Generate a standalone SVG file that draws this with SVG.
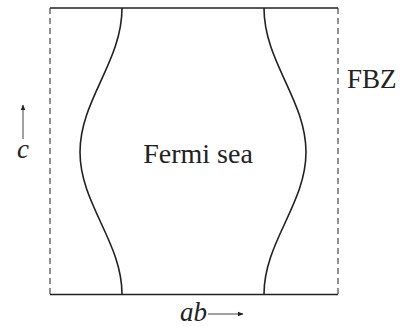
<svg xmlns="http://www.w3.org/2000/svg" width="401" height="327" viewBox="0 0 401 327">
<style>
.solid{stroke:#222;stroke-width:1.3;fill:none}
.dash{stroke:#222;stroke-width:1;fill:none;stroke-dasharray:6,4}
.curve{stroke:#222;stroke-width:1.6;fill:none}
.t{fill:#222}
.ax{stroke:#444;stroke-width:1;fill:none}
</style>
<defs>
<marker id="ah" viewBox="0 0 10 10" refX="9" refY="5" markerWidth="6" markerHeight="6" orient="auto" markerUnits="userSpaceOnUse">
<path d="M0,1 L10,5 L0,9 Z" fill="#222"/>
</marker>
</defs>
<g id="fbz">
<line class="solid" x1="50" y1="8" x2="338" y2="8"/>
<line class="solid" x1="50" y1="294.5" x2="338" y2="294.5"/>
<line class="dash" x1="50" y1="8" x2="50" y2="294.5"/>
<line class="dash" x1="338" y1="8" x2="338" y2="294.5"/>
<text class="t" x="347" y="88" font-size="27" font-family="Liberation Serif, serif">FBZ</text>
</g>
<g id="fermi-surface">
<path class="curve" d="M122,8 C122,62 80,100 80,152 C80,204 122,242 122,294"/>
<path class="curve" d="M264,8 C264,62 306,100 306,152 C306,204 264,242 264,294"/>
</g>
<g id="fermi-sea">
<text class="t" x="198" y="163" font-size="28" text-anchor="middle" font-family="Liberation Serif, serif">Fermi sea</text>
</g>
<g id="axes">
<line class="ax" x1="23" y1="139" x2="23" y2="105" marker-end="url(#ah)"/>
<text class="t" x="23" y="158" font-size="27" font-style="italic" text-anchor="middle" font-family="Liberation Serif, serif">c</text>
<line class="ax" x1="208" y1="314" x2="243" y2="314" marker-end="url(#ah)"/>
<text class="t" x="180" y="321" font-size="27" font-style="italic" font-family="Liberation Serif, serif">ab</text>
</g>
</svg>
